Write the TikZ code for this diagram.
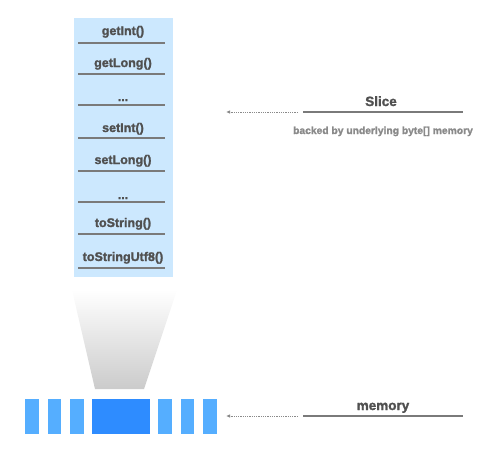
\documentclass[tikz,border=0pt]{standalone}
\usepackage{fontspec}
\usetikzlibrary{arrows.meta}
\setmainfont{Liberation Sans}[BoldFeatures={FakeBold=1.6}]
\definecolor{panelblue}{HTML}{CCE8FE}
\definecolor{txtgray}{HTML}{505050}
\definecolor{subgray}{HTML}{8A8A8A}
\definecolor{linegray}{HTML}{7A7A7A}
\definecolor{blocklight}{HTML}{55AEFF}
\definecolor{blockdark}{HTML}{2E8CFF}
\definecolor{shadebot}{HTML}{CBCBCB}
\begin{document}
\begin{tikzpicture}[x=1pt,y=-1pt,
  method/.style={font=\fontsize{12.5}{14}\selectfont\bfseries, text=txtgray, inner sep=0pt, anchor=base},
  sepline/.style={draw=linegray, line width=1.6pt},
  label/.style={font=\fontsize{13.5}{15}\selectfont\bfseries, text=txtgray, inner sep=0pt, anchor=base},
  sublabel/.style={font=\fontsize{10.3}{12}\selectfont\bfseries, text=subgray, inner sep=0pt, anchor=base},
  pointer/.style={draw=subgray, densely dotted, line width=0.8pt, -{Latex[length=4pt,width=3.5pt]}},
  small/.style={fill=blocklight, draw=none, minimum width=14pt, minimum height=35pt, inner sep=0pt, anchor=north west},
]
\useasboundingbox (0,0) rectangle (490,450);
% panel
\node[fill=panelblue, minimum width=99pt, minimum height=259pt, inner sep=0pt, anchor=north west] (panel) at (74,18) {};
% methods
\node[method] (m1) at (123,35) {getInt()};
\node[method] (m2) at (123,67) {getLong()};
\node[method] (m3) at (123,101) {...};
\node[method] (m4) at (123,132) {setInt()};
\node[method] (m5) at (123,164) {setLong()};
\node[method] (m6) at (123,199) {...};
\node[method] (m7) at (123,227) {toString()};
\node[method] (m8) at (123,261) {toStringUtf8()};
\foreach \ly [count=\i] in {43,74,105,138,171,202,234,268}{
  \draw[sepline] (78,\ly) coordinate (l\i a) -- (165,\ly) coordinate (l\i b);
}
% trapezoid
\shade[top color=white, bottom color=shadebot] (72,290) -- (177,290) -- (144,389) -- (95,389) -- cycle;
% memory blocks
\node[small] (b1) at (25,399) {};
\node[small, minimum width=13pt] (b2) at (48,399) {};
\node[small] (b3) at (70,399) {};
\node[small, fill=blockdark, minimum width=58pt] (b4) at (92,399) {};
\node[small] (b5) at (158,399) {};
\node[small, minimum width=13pt] (b6) at (181,399) {};
\node[small] (b7) at (203,399) {};
% Slice label
\node[label] (slice) at (381,106) {Slice};
\draw[sepline] (303,112) coordinate (sa) -- (463,112) coordinate (sb);
\node[sublabel] (sub) at (383,134) {backed by underlying byte[] memory};
\coordinate (sarrs) at (298,112);
\coordinate (sarre) at (226,112);
\draw[pointer] (sarrs) -- (sarre);
% memory label
\node[label] (mem) at (383,410) {memory};
\draw[sepline] (303,416) coordinate (ma) -- (463,416) coordinate (mb);
\coordinate (marrs) at (298,416);
\coordinate (marre) at (226,416);
\draw[pointer] (marrs) -- (marre);
\end{tikzpicture}
\end{document}
